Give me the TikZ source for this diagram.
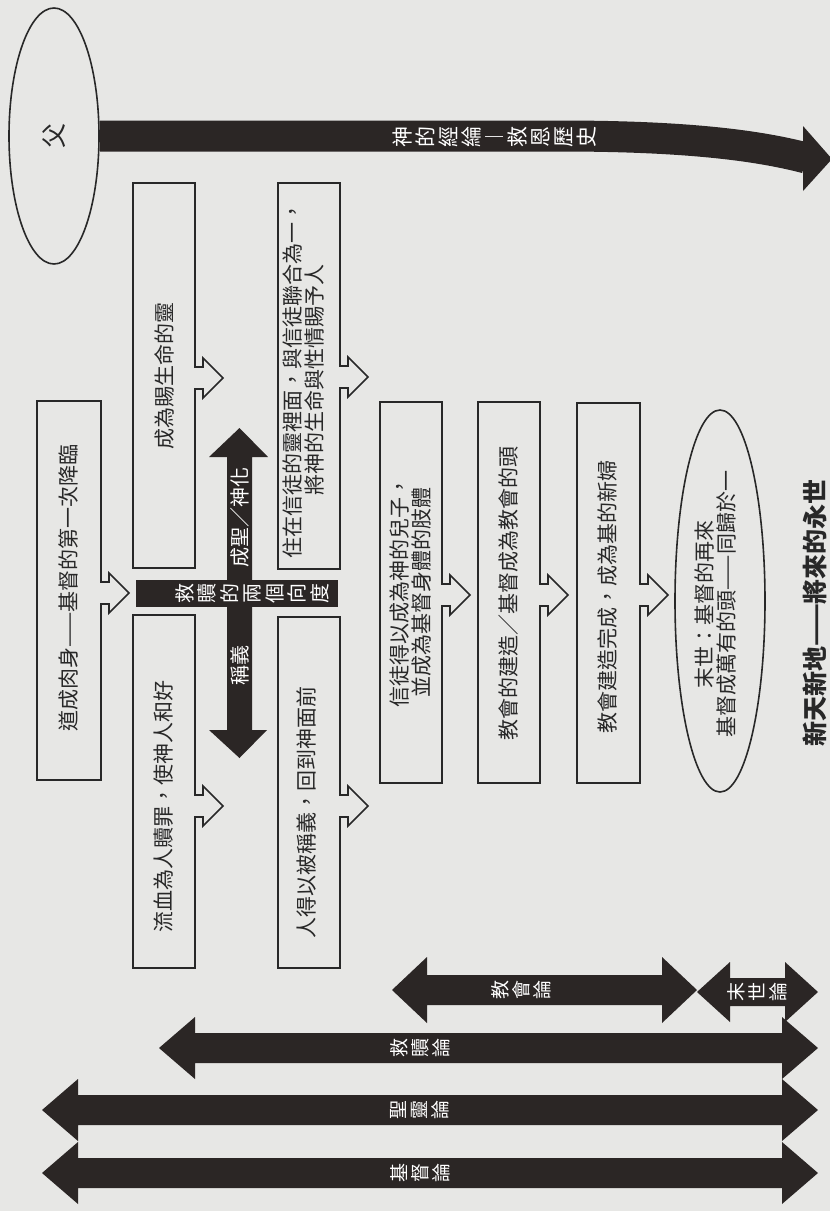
\documentclass[tikz,border=0pt]{standalone}
\usepackage{fontspec}
\setmainfont{Noto Sans CJK TC}
\usetikzlibrary{shapes.geometric}
\definecolor{paper}{RGB}{231,231,229}
\definecolor{ink}{RGB}{43,38,37}
\definecolor{txt}{RGB}{40,40,40}
% box with an outgoing arrow on its right side
\newcommand\arrbox[5]{%
  \draw[boxline] (#1,#2) -- (#3,#2) -- (#3,{#5-11}) -- ({#3+8},{#5-11}) -- ({#3+8},{#5-20})
    -- ({#3+28},#5) -- ({#3+8},{#5+20}) -- ({#3+8},{#5+11}) -- (#3,{#5+11}) -- (#3,#4) -- (#1,#4) -- cycle;}
% horizontal double arrow: xl, xr, yc, head length, head half, shaft half
\newcommand\dblarr[6]{%
  \fill[ink] (#1,#3) -- ({#1+#4},{#3-#5}) -- ({#1+#4},{#3-#6}) -- ({#2-#4},{#3-#6}) -- ({#2-#4},{#3-#5})
    -- (#2,#3) -- ({#2-#4},{#3+#5}) -- ({#2-#4},{#3+#6}) -- ({#1+#4},{#3+#6}) -- ({#1+#4},{#3+#5}) -- cycle;}
\begin{document}
\begin{tikzpicture}[x=0.5pt,y=-0.5pt,
  boxline/.style={draw=txt, line width=0.8pt},
  boxtxt/.style={rotate=90, text=txt, font=\fontsize{10.5}{11}\selectfont, align=center, inner sep=0pt},
  stk/.style={rotate=90, text=white, align=center, inner sep=0pt, font=\fontsize{9.5}{10.5}\selectfont}]
\fill[paper] (0,0) rectangle (830,1211);
\useasboundingbox (0,0) rectangle (830,1211);

% Father ellipse and the main band
\node[ellipse, draw=txt, line width=0.8pt, minimum width=45pt, minimum height=128pt, inner sep=0pt] (fu) at (54,136) {};
\node[boxtxt, font=\fontsize{12.5}{12.5}\selectfont] (futxt) at (fu) {父};
\draw[ink, line width=15.5pt] (fu.east) -- (560,136) .. controls (690,136) and (760,146) .. (806,158);
\fill[ink] (803,126) -- (832,159) -- (803,191) -- cycle;
\node[stk, font=\fontsize{10.5}{11.5}\selectfont] (band) at (495,137) {神\\的\\經\\綸\\︱\\救\\恩\\歷\\史};

% boxes with arrows
\arrbox{37}{401}{101}{780}{593}
\node[boxtxt] (a1) at (69,588) {道成肉身——基督的第一次降臨};
\arrbox{133}{183}{195}{568}{378}
\node[boxtxt] (b1) at (164,376) {成為賜生命的靈};
\arrbox{278}{183}{340}{569}{377}
\node[boxtxt] (c1) at (304,380) {住在信徒的靈裡面，與信徒聯合為一，\\將神的生命與性情賜予人};
\arrbox{133}{615}{195}{968}{806}
\node[boxtxt] (b2) at (164,806) {流血為人贖罪，使神人和好};
\arrbox{278}{617}{340}{968}{806}
\node[boxtxt] (c2) at (306,812) {人得以被稱義，回到神面前};
\arrbox{380}{402}{442}{783}{595}
\node[boxtxt] (d1) at (411,592) {信徒得以成為神的兒子，\\並成為基督身體的肢體};
\arrbox{478}{402}{540}{783}{595}
\node[boxtxt] (e1) at (509,593) {教會的建造／基督成為教會的頭};
\arrbox{577}{403}{640}{783}{595}
\node[boxtxt] (f1) at (607,597) {教會建造完成，成為基的新婦};

% end ellipse
\node[ellipse, draw=txt, line width=0.8pt, minimum width=45pt, minimum height=191pt, inner sep=0pt] (mo) at (720,601) {};
\node[boxtxt] (motxt) at (716,604) {末世：基督的再來\\基督成萬有的頭——同歸於一};
\node[rotate=90, text=txt, inner sep=0pt, font=\bfseries\fontsize{12.5}{12.5}\selectfont] (xin) at (815,613) {新天新地——將來的永世};

% cross of the two dimensions
\fill[ink] (136,580) rectangle (338,607);
\fill[ink] (227,457) -- (209,457) -- (239.5,428) -- (268,457) -- (252,457) -- (252,730) -- (267,730)
  -- (239.5,758) -- (209,730) -- (227,730) -- cycle;
\node[stk, font=\fontsize{10}{11.25}\selectfont] (xd) at (252,593) {救\\贖\\的\\兩\\個\\向\\度};
\node[rotate=90, text=white, inner sep=0pt, font=\fontsize{10}{10}\selectfont] (sh) at (240,517) {成聖／神化};
\node[rotate=90, text=white, inner sep=0pt, font=\fontsize{10}{10}\selectfont] (cy) at (240,665) {稱義};

% doctrine arrows
\dblarr{392}{697}{990}{35}{33}{15}
\node[stk] (jh) at (521,990) {教\\會\\論};
\dblarr{697}{818}{992}{33}{30}{14}
\node[stk] (ms) at (757,992) {末\\世\\論};
\dblarr{159}{818}{1048}{36}{31}{15}
\node[stk] (js) at (420,1048) {救\\贖\\論};
\dblarr{42}{818}{1110}{36}{31}{15}
\node[stk] (sl) at (420,1110) {聖\\靈\\論};
\dblarr{42}{818}{1173}{36}{31}{15}
\node[stk] (jd) at (420,1173) {基\\督\\論};
\end{tikzpicture}
\end{document}
